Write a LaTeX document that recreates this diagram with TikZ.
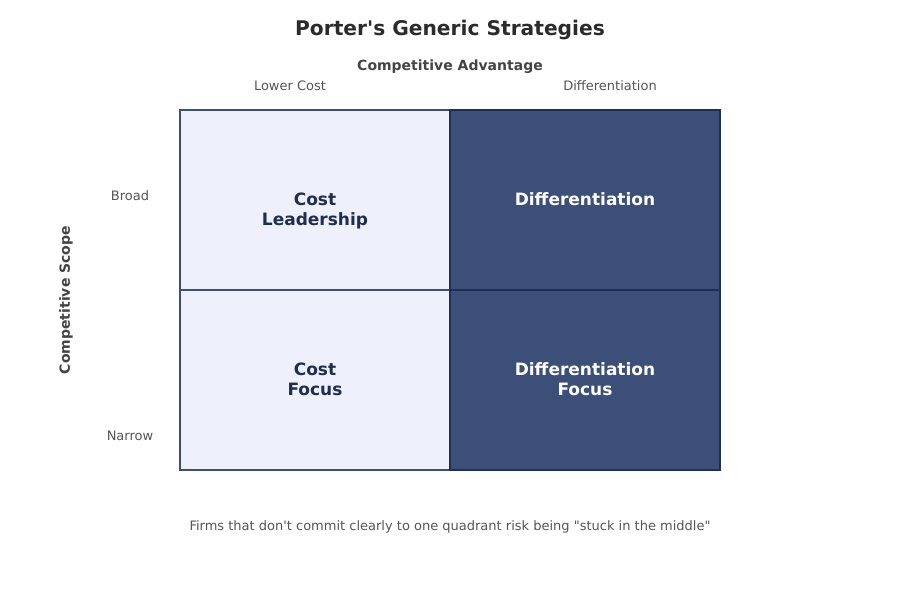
\documentclass[tikz,border=0pt]{standalone}
\usepackage{fontspec}
\setmainfont{DejaVu Sans}[Ligatures=TeXOff]
\definecolor{lightfill}{HTML}{EEF1FB}
\definecolor{lightedge}{HTML}{3B4F7A}
\definecolor{darkfill}{HTML}{3B4F78}
\definecolor{darkedge}{HTML}{1F2E55}
\definecolor{celltext}{HTML}{1E2D50}
\definecolor{titletext}{HTML}{2B2B2B}
\definecolor{axistext}{HTML}{444444}
\definecolor{ticktext}{HTML}{555555}
\tikzset{
  lightcell/.style={draw=lightedge, fill=lightfill, line width=1.5pt},
  darkcell/.style={draw=darkedge, fill=darkfill, line width=1.5pt},
  darklabel/.style={font=\fontsize{17}{20}\selectfont\bfseries, text=celltext, align=center, inner sep=0pt},
  lightlabel/.style={font=\fontsize{17}{20}\selectfont\bfseries, text=white, align=center, inner sep=0pt},
  ticklabel/.style={font=\fontsize{13}{15}\selectfont, text=ticktext, inner sep=0pt},
  axislabel/.style={font=\fontsize{14}{17}\selectfont\bfseries, text=axistext, inner sep=0pt},
}
\begin{document}
\begin{tikzpicture}[x=1pt,y=-1pt]
\useasboundingbox (0,0) rectangle (900,600);
\fill[white] (0,0) rectangle (900,600);
\node[font=\fontsize{20.2}{24}\selectfont\bfseries, text=titletext, inner sep=0pt] (title) at (450,30) {Porter's Generic Strategies};
\node[axislabel] (xaxis) at (450,67) {Competitive Advantage};
\node[ticklabel] (lc) at (290,86) {Lower Cost};
\node[ticklabel] (df) at (610,86) {Differentiation};
\node[axislabel, rotate=90] (yaxis) at (66,300) {Competitive Scope};
\node[ticklabel] (broad) at (130,196) {Broad};
\node[ticklabel] (narrow) at (130,436) {Narrow};
\path[lightcell] (180,110) rectangle (450,290);
\path[lightcell] (180,290) rectangle (450,470);
\path[darkcell] (450,110) rectangle (720,290);
\path[darkcell] (450,290) rectangle (720,470);
\node[darklabel] (cl) at (315,211) {Cost\\Leadership};
\node[lightlabel] (d) at (585,199) {Differentiation};
\node[darklabel] (cf) at (315,379) {Cost\\Focus};
\node[lightlabel] (dff) at (585,379) {Differentiation\\Focus};
\node[ticklabel] (note) at (450,527) {Firms that don't commit clearly to one quadrant risk being "stuck in the middle"};
\end{tikzpicture}
\end{document}
